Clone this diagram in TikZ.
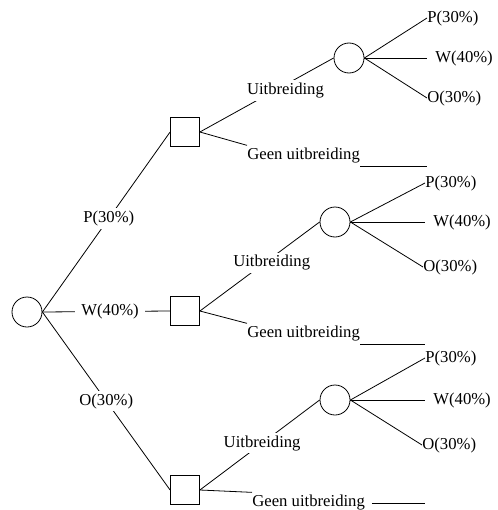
\documentclass[tikz,border=0pt]{standalone}
\usepackage{fontspec}
\setmainfont{Liberation Serif}
\usetikzlibrary{positioning}

\tikzset{
  chance/.style={circle, draw, minimum size=22.5pt, inner sep=0pt},
  choice/.style={rectangle, draw, minimum size=21.75pt, inner sep=0pt},
  lbl/.style={fill=white, inner sep=2pt},
  geen/.style={anchor=west, inner xsep=0pt, inner ysep=2pt},
  outcome/.style={anchor=west, inner sep=0pt},
}

\begin{document}
\begin{tikzpicture}[x=0.75pt, y=-0.75pt, line width=0.6pt, font=\fontsize{12.5}{14}\selectfont]
    \useasboundingbox (0,0) rectangle (498,510);
    \clip (0,0) rectangle (498,510);
    % knopen
    \node[chance] (root) at (27,312) {};
    \node[choice] (sq1) at (185,132) {};
    \node[choice] (sq2) at (185,311) {};
    \node[choice] (sq3) at (185,490) {};
    \node[chance] (c1) at (349,58) {};
    \node[chance] (c2) at (335,222) {};
    \node[chance] (c3) at (335,400) {};
    % tweede kans
    \node[outcome] (p1) at (427,18) {P(30\%)};
    \node[outcome, inner xsep=6pt] (w1) at (427,58) {W(40\%)};
    \node[outcome] (o1) at (427,98) {O(30\%)};
    \node[outcome] (p2) at (425,183) {P(30\%)};
    \node[outcome, inner xsep=6pt] (w2) at (425,222) {W(40\%)};
    \node[outcome] (o2) at (423,267) {O(30\%)};
    \node[outcome] (p3) at (425,358) {P(30\%)};
    \node[outcome, inner xsep=6pt] (w3) at (425,400) {W(40\%)};
    \node[outcome] (o3) at (422,445) {O(30\%)};
    \foreach \c/\s in {c1/1, c2/2, c3/3}
        \foreach \t in {p,w,o}
            \draw (\c.east) -- (\t\s.west);
    % eerste kans
    \draw (root.east) -- node[lbl, pos=0.52] {P(30\%)} (sq1.west);
    \draw (root.east) -- node[lbl, pos=0.53, inner xsep=5pt] {W(40\%)} (sq2.west);
    \draw (root.east) -- node[lbl, pos=0.5] {O(30\%)} (sq3.west);
    % beslissing
    \draw (sq1.east) -- node[lbl, pos=0.64, yshift=-4.5pt] {Uitbreiding} (c1.west);
    \draw (sq2.east) -- node[lbl, pos=0.6, yshift=-4pt] {Uitbreiding} (c2.west);
    \draw (sq3.east) -- node[lbl, pos=0.52] {Uitbreiding} (c3.west);
    \node[geen] (g1) at (247,156) {Geen uitbreiding};
    \node[geen] (g2) at (247,334) {Geen uitbreiding};
    \node[geen] (g3) at (252,503) {Geen uitbreiding};
    \draw (sq1.east) -- (g1.north west);
    \draw (g1.south east) -- (g1.south east -| p1.west);
    \draw (sq2.east) -- (g2.north west);
    \draw (g2.south east) -- (g2.south east -| p2.west);
    \draw (sq3.east) -- (g3.north west);
    \draw ([xshift=5pt]g3.east) -- (g3.east -| p3.west);
\end{tikzpicture}
\end{document}
